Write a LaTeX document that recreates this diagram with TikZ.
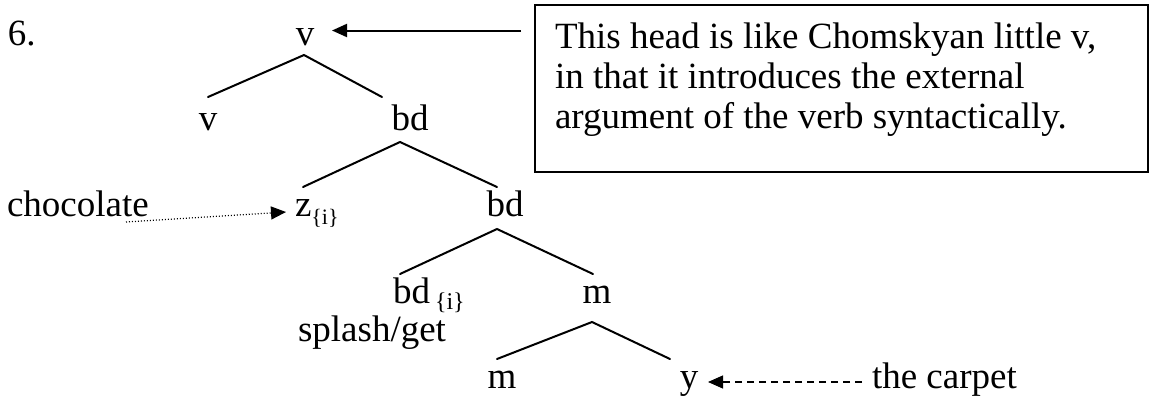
\documentclass[tikz,border=0pt]{standalone}
\usepackage{fontspec}
\setmainfont{Liberation Serif}
\usetikzlibrary{arrows.meta}
\begin{document}
\begin{tikzpicture}[x=0.5pt,y=-0.5pt,
  lbl/.style={inner sep=0pt,outer sep=0pt,font=\fontsize{18.5}{20}\selectfont},
  branch/.style={line width=1pt,line cap=round},
  tip/.style={-{Triangle[length=7.5pt,width=6.5pt]}},
  solidarrow/.style={tip,line width=1pt},
  dotarrow/.style={tip,line width=0.6pt,dash pattern=on 0.5pt off 1pt},
  dasharrow/.style={tip,line width=0.6pt,dash pattern=on 3.5pt off 2.5pt},
  notebox/.style={draw,line width=1.2pt,inner sep=0pt,minimum width=306.5pt,minimum height=83.5pt}]
\useasboundingbox (0,0) rectangle (1152,397);
\newcommand{\subzi}{\raisebox{-4pt}{\fontsize{11}{13}\selectfont\{i\}}}
\newcommand{\subbdi}{\raisebox{-3pt}{\fontsize{12}{14}\selectfont\{i\}}}
% labels
\node[lbl,anchor=base west] (six) at (8,45) {6.};
\node[lbl,anchor=base] (vtop) at (305,45) {v};
\node[lbl,anchor=base] (vleft) at (208,130) {v};
\node[lbl,anchor=base] (bdone) at (410,130) {bd};
\node[lbl,anchor=base west] (choc) at (7,216) {chocolate};
\node[lbl,anchor=base west] (zi) at (295,216) {z\subzi};
\node[lbl,anchor=base] (bdtwo) at (505,216) {bd};
\node[lbl,anchor=base west] (bdi) at (393,303) {bd\hspace{2.5pt}\subbdi};
\node[lbl,anchor=base] (mone) at (597,303) {m};
\node[lbl,anchor=base west] (splash) at (298,341) {splash/get};
\node[lbl,anchor=base] (mtwo) at (502,388) {m};
\node[lbl,anchor=base] (yy) at (689,388) {y};
\node[lbl,anchor=base west] (carpet) at (872,388) {the carpet};
% note box
\node[notebox] (box) at (841.5,88.5) {};
\node[lbl,anchor=base west] (nA) at (555,48.5) {This head is like Chomskyan little v,};
\node[lbl,anchor=base west] (nB) at (555,88.5) {in that it introduces the external};
\node[lbl,anchor=base west] (nC) at (555,128.5) {argument of the verb syntactically.};
% branch coordinates
\coordinate (a1) at (304,55);  \coordinate (l1) at (208,97);  \coordinate (r1) at (382,97);
\coordinate (a2) at (400,142); \coordinate (l2) at (303,187); \coordinate (r2) at (497,187);
\coordinate (a3) at (497,229); \coordinate (l3) at (400,274); \coordinate (r3) at (593,274);
\coordinate (a4) at (592,322); \coordinate (l4) at (497,359); \coordinate (r4) at (670,359);
\draw[branch] (l1) -- (a1) -- (r1);
\draw[branch] (l2) -- (a2) -- (r2);
\draw[branch] (l3) -- (a3) -- (r3);
\draw[branch] (l4) -- (a4) -- (r4);
% arrows
\coordinate (boxarrow) at (521,30.5);
\coordinate (vtip) at (332,30.5);
\draw[solidarrow] (boxarrow) -- (vtip);
\coordinate (chocdot) at (126,222);
\coordinate (ztip) at (286,212);
\draw[dotarrow] (chocdot) -- (ztip);
\coordinate (carpetdash) at (862,382);
\coordinate (ytip) at (708,382);
\draw[dasharrow] (carpetdash) -- (ytip);
\end{tikzpicture}
\end{document}
